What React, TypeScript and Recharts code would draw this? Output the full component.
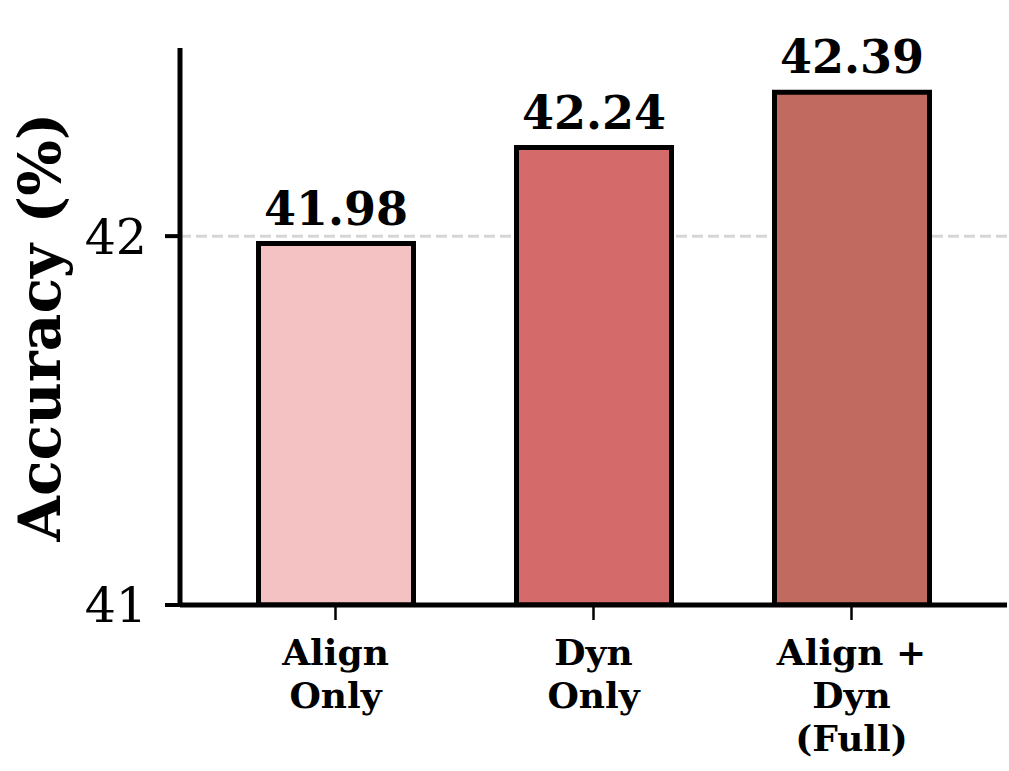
import React from 'react';
import { BarChart, Bar, XAxis, YAxis, CartesianGrid, Cell, LabelList } from 'recharts';

// values
const categories = ['Align\nOnly', 'Dyn\nOnly', 'Align +\nDyn\n(Full)'];
const accuracy = [41.98, 42.24, 42.39];
const barColors = ['#f4c2c2', '#d46a6a', '#c06a60'];
const yTicks = [41, 42];

const data = categories.map((name, i) => ({ name, acc: accuracy[i] }));

const FONT = '"DejaVu Serif", serif';

const CategoryTick = (props: any) => {
  const { x, y, payload } = props;
  const lines: string[] = String(payload.value).split('\n');
  return (
    <text x={x} y={y} textAnchor="middle" fontFamily={FONT} fontWeight="bold" fontSize={36} fill="#000">
      {lines.map((ln, i) => (
        <tspan key={i} x={x} dy={43}>{ln}</tspan>
      ))}
    </text>
  );
};

const ValueLabel = (props: any) => {
  const { x, y, width, value } = props;
  return (
    <text x={x + width / 2} y={y - 19} textAnchor="middle" fontFamily={FONT} fontWeight="bold" fontSize={46} fill="#000">
      {Number(value).toFixed(2)}
    </text>
  );
};

export default function App() {
  return (
    <div style={{ position: 'absolute', left: 0, top: 0, width: 1009, height: 771, background: '#fff' }}>
      <BarChart width={1009} height={771} data={data} margin={{ top: 48, right: 2, bottom: 0, left: 0 }}>
        <CartesianGrid horizontal vertical={false} stroke="#d6d6d6" strokeWidth={3} strokeDasharray="11 5" horizontalValues={[42]} />
        <XAxis
          dataKey="name"
          height={166}
          padding={{ left: 26.5, right: 26.5 }}
          axisLine={{ stroke: '#000', strokeWidth: 5 }}
          tickLine={{ stroke: '#000', strokeWidth: 2.5 }}
          tickSize={15}
          tick={<CategoryTick />}
          interval={0}
        />
        <YAxis
          width={180}
          domain={[41, 42.51]}
          ticks={yTicks}
          allowDataOverflow
          axisLine={{ stroke: '#000', strokeWidth: 5 }}
          tickLine={{ stroke: '#000', strokeWidth: 4 }}
          tickSize={15}
          tickMargin={18}
          tick={{ fontFamily: FONT, fontSize: 49, fill: '#000' }}
          label={{
            content: () => (
              <text
                transform="translate(60, 327) rotate(-90)"
                textAnchor="middle"
                fontFamily={FONT}
                fontWeight="bold"
                fontSize={58.5}
                fill="#000"
              >
                Accuracy (%)
              </text>
            ),
          }}
        />
        <Bar dataKey="acc" barSize={155} stroke="#000" strokeWidth={5} isAnimationActive={false}>
          {data.map((d, i) => (
            <Cell key={`c-${i}`} fill={barColors[i]} />
          ))}
          <LabelList dataKey="acc" content={<ValueLabel />} />
        </Bar>
      </BarChart>
    </div>
  );
}
